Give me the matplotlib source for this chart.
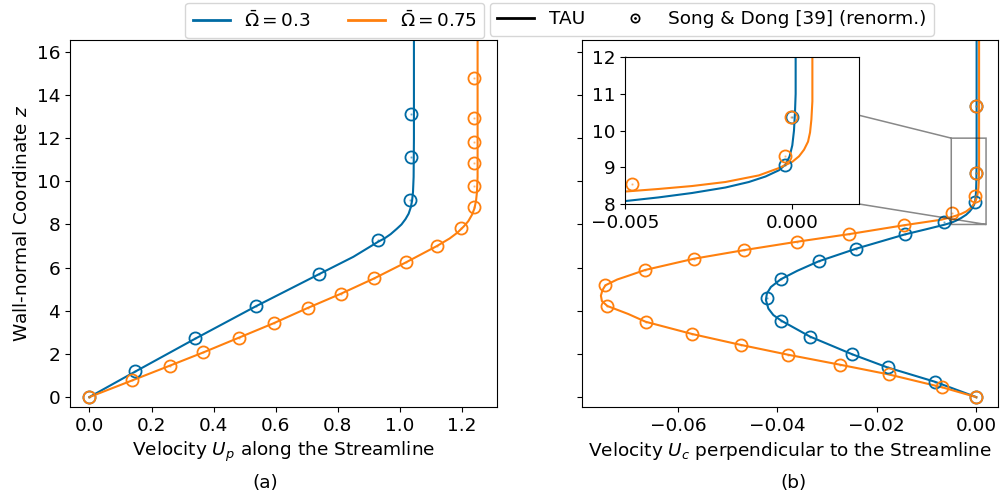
import numpy as np
import matplotlib
matplotlib.use("Agg")
import matplotlib.pyplot as plt
from matplotlib.lines import Line2D
from matplotlib.ticker import FuncFormatter

plt.rcParams['font.size'] = 13.3

c1 = '#006BA4'   # Omega = 0.3
c2 = '#FF800E'   # Omega = 0.75

# ---- (a) streamwise velocity U_p ----
# TAU lines
up1_line = [0.0, 0.15, 0.34, 0.535, 0.74, 0.85, 0.93, 0.95, 0.97, 0.99, 1.005, 1.018, 1.028, 1.035, 1.039, 1.042, 1.044, 1.045, 1.045]
zp1_line = [0.0, 1.2, 2.7, 4.2, 5.7, 6.5, 7.2, 7.35, 7.55, 7.8, 8.0, 8.25, 8.5, 8.8, 9.1, 9.5, 10.2, 12.0, 16.6]
up2_line = [0.0, 0.1375, 0.258, 0.367, 0.481, 0.593, 0.703, 0.81, 0.917, 1.019, 1.119, 1.16, 1.185, 1.205,
            1.22, 1.232, 1.24, 1.245, 1.248, 1.25, 1.25]
zp2_line = [0.0, 0.77, 1.45, 2.07, 2.75, 3.42, 4.13, 4.79, 5.5, 6.24, 7.0, 7.35, 7.62, 7.9,
            8.15, 8.45, 8.75, 9.1, 9.5, 10.2, 16.6]
# reference data
up1_pts = [0.0, 0.147, 0.340, 0.535, 0.740, 0.929, 1.033, 1.036, 1.036]
zp1_pts = [0.0, 1.21, 2.75, 4.24, 5.70, 7.27, 9.11, 11.13, 13.13]
up2_pts = [0.0, 0.1375, 0.258, 0.367, 0.481, 0.593, 0.703, 0.810, 0.917, 1.019, 1.119, 1.198, 1.237, 1.240, 1.240, 1.240, 1.240, 1.240]
zp2_pts = [0.0, 0.77, 1.45, 2.07, 2.75, 3.42, 4.13, 4.79, 5.50, 6.24, 7.00, 7.85, 8.81, 9.80, 10.85, 11.81, 12.93, 14.80]

# ---- (b) cross-stream velocity U_c ----
uc1_line = [0.0, -0.0083, -0.0178, -0.0249, -0.0334, -0.0392, -0.0408, -0.0418, -0.0423, -0.0421, -0.0413,
            -0.0393, -0.0360, -0.0317, -0.0241, -0.0143, -0.0100, -0.0065,
            -0.005, -0.004, -0.003, -0.002, -0.0013, -0.0008, -0.0004, -0.0002, -0.00008,
            0.0, 0.00005, 0.00008, 0.0001, 0.0001]
zc1_line = [0.0, 0.71, 1.37, 1.98, 2.80, 3.54, 3.8, 4.1, 4.5, 4.8, 5.1,
            5.46, 5.85, 6.29, 6.88, 7.54, 7.78, 7.98,
            8.08, 8.18, 8.30, 8.45, 8.6, 8.75, 8.92, 9.08, 9.3,
            9.6, 10.0, 10.5, 11.0, 16.6]
uc2_line = [0.0, -0.0068, -0.0176, -0.0274, -0.0378, -0.0474, -0.0571, -0.0665, -0.0700, -0.0742, -0.0753,
            -0.0755, -0.0752, -0.0746, -0.0722, -0.0700, -0.0666, -0.0568, -0.0467, -0.0360, -0.0256,
            -0.0146, -0.0070, -0.005, -0.004, -0.003, -0.002, -0.001, -0.0004, 0.0, 0.0002,
            0.00035, 0.00047, 0.00053, 0.00057, 0.0006, 0.0006]
zc2_line = [0.0, 0.45, 1.05, 1.50, 1.96, 2.42, 2.92, 3.49, 3.85, 4.22, 4.45,
            4.7, 4.95, 5.18, 5.45, 5.62, 5.89, 6.41, 6.81, 7.20, 7.55,
            7.96, 8.22, 8.34, 8.41, 8.49, 8.6, 8.78, 8.98, 9.15, 9.3,
            9.48, 9.7, 9.95, 10.3, 10.8, 16.6]
uc1_pts = [0.0, -0.0083, -0.0178, -0.0249, -0.0334, -0.0392, -0.0421, -0.0393, -0.0317, -0.0241, -0.0143, -0.00645, -0.00023, 0.0, 0.0]
zc1_pts = [0.0, 0.71, 1.37, 1.98, 2.80, 3.54, 4.59, 5.46, 6.29, 6.88, 7.54, 8.11, 9.06, 10.37, 13.5]
uc2_pts = [0.0, -0.0068, -0.0176, -0.0274, -0.0378, -0.0474, -0.0571, -0.0665, -0.0742, -0.0746, -0.0666,
           -0.0568, -0.0467, -0.0360, -0.0256, -0.0146, -0.00478, -0.00021, -0.00003, 0.0]
zc2_pts = [0.0, 0.45, 1.05, 1.50, 1.96, 2.42, 2.92, 3.49, 4.22, 5.18, 5.89,
           6.41, 6.81, 7.20, 7.55, 7.96, 8.54, 9.31, 10.37, 13.5]


def draw(ax, lines, pts):
    for (x, z), c in zip(lines, [c1, c2]):
        ax.plot(x, z, color=c, lw=1.5)
    for (x, z), c in zip(pts, [c1, c2]):
        ax.plot(x, z, 'o', color=c, ms=8.7, mew=1.3, fillstyle='none', ls='none')
        ax.plot(x, z, '.', color=c, ms=1.5, alpha=0.4, ls='none')


fig = plt.figure(figsize=(10, 4.99), dpi=100)
ax1 = fig.add_axes([0.07, 0.1844, 0.427, 0.7355])
ax2 = fig.add_axes([0.582, 0.1844, 0.416, 0.7355], sharey=ax1)

draw(ax1, [(up1_line, zp1_line), (up2_line, zp2_line)], [(up1_pts, zp1_pts), (up2_pts, zp2_pts)])
draw(ax2, [(uc1_line, zc1_line), (uc2_line, zc2_line)], [(uc1_pts, zc1_pts), (uc2_pts, zc2_pts)])

ax1.set_ylim(-0.46, 16.55)
ax1.set_yticks(np.arange(0, 17, 2))
ax1.set_ylabel('Wall-normal Coordinate $z$')
ax1.set_xlabel('Velocity $U_p$ along the Streamline')
ax2.set_xlabel('Velocity $U_c$ perpendicular to the Streamline')
ax2.tick_params(labelleft=False)

# inset
axins = ax2.inset_axes([0.1034, 0.553, 0.563, 0.40])
draw(axins, [(uc1_line, zc1_line), (uc2_line, zc2_line)], [(uc1_pts, zc1_pts), (uc2_pts, zc2_pts)])
axins.set_xlim(-0.005, 0.002)
axins.set_ylim(8, 12)
axins.set_xticks([-0.005, 0.0])
axins.set_yticks([8, 9, 10, 11, 12])
axins.xaxis.set_major_formatter(FuncFormatter(lambda v, p: f"{v:.3f}".replace('-', '\u2212')))
ax2.indicate_inset_zoom(axins, edgecolor='0.15', alpha=0.55, lw=1.1)

# legends
h1 = [Line2D([], [], color=c1, lw=2), Line2D([], [], color=c2, lw=2)]
leg1 = fig.legend(h1, [r'$\bar{\Omega} = 0.3$', r'$\bar{\Omega} = 0.75$'], ncol=2,
                  loc='upper right', bbox_to_anchor=(0.487, 1.0), borderaxespad=0.15)
circ = Line2D([], [], marker='o', color='k', ms=6, mew=1.2, fillstyle='none', ls='none')
dot = Line2D([], [], marker='.', color='k', ms=2, ls='none')
h2 = [Line2D([], [], color='k', lw=2), (circ, dot)]
leg2 = fig.legend(h2, ['TAU', 'Song & Dong [39] (renorm.)'], ncol=2, columnspacing=1.7,
                  loc='upper left', bbox_to_anchor=(0.487, 1.0), borderaxespad=0.15)

fig.text(0.265, 1 - 483 / 499, '(a)', ha='center', va='center')
fig.text(0.793, 1 - 483 / 499, '(b)', ha='center', va='center')

fig.savefig('out.png', dpi=100)
